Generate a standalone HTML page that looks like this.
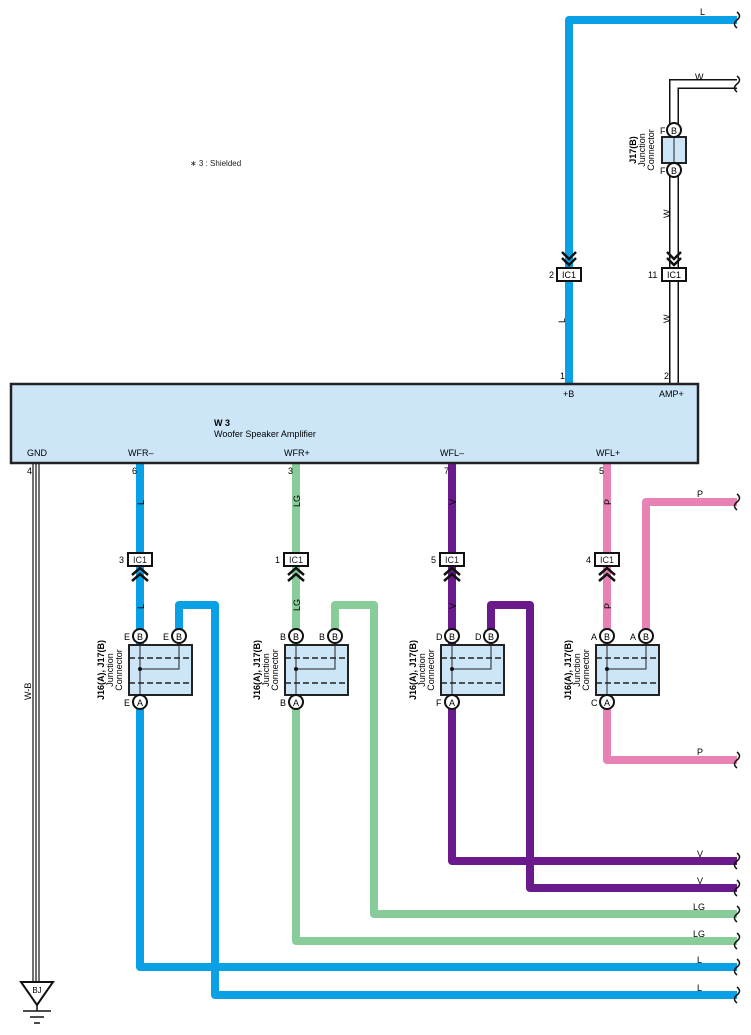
<!DOCTYPE html>
<html><head><meta charset="utf-8"><style>
html,body{margin:0;padding:0;background:#fff;}
svg{display:block;font-family:"Liberation Sans",sans-serif;}
</style></head><body>
<svg width="751" height="1035" viewBox="0 0 751 1035" xmlns="http://www.w3.org/2000/svg">
<defs>
<g id="jc">
  <rect x="128" y="553" width="24" height="13" fill="#fff" stroke="#111" stroke-width="2"/>
  <text x="140" y="563" font-size="9" text-anchor="middle" fill="#222">IC1</text>
  <polyline points="132,575 140,568 148,575" fill="none" stroke="#111" stroke-width="2.5"/>
  <polyline points="132,581 140,574 148,581" fill="none" stroke="#111" stroke-width="2.5"/>
  <rect x="129" y="645" width="63" height="50" fill="#cce6f8" stroke="#222" stroke-width="2"/>
  <line x1="129" y1="658" x2="192" y2="658" stroke="#222" stroke-width="1.5" stroke-dasharray="6,3"/>
  <line x1="129" y1="683" x2="192" y2="683" stroke="#222" stroke-width="1.5" stroke-dasharray="6,3"/>
  <line x1="140" y1="645" x2="140" y2="695" stroke="#222" stroke-width="1"/>
  <polyline points="140,669 179,669 179,645" fill="none" stroke="#222" stroke-width="1"/>
  <circle cx="140" cy="669" r="2" fill="#111"/>
  <circle cx="140" cy="636" r="7" fill="#fff" stroke="#111" stroke-width="2"/>
  <circle cx="179" cy="636" r="7" fill="#fff" stroke="#111" stroke-width="2"/>
  <circle cx="140" cy="702" r="7" fill="#fff" stroke="#111" stroke-width="2"/>
  <text x="140" y="640" font-size="9" text-anchor="middle">B</text>
  <text x="179" y="640" font-size="9" text-anchor="middle">B</text>
  <text x="140" y="706" font-size="9" text-anchor="middle">A</text>
  <g transform="translate(104,670) rotate(-90)" font-size="9" text-anchor="middle">
    <text x="0" y="0" font-weight="bold">J16(A), J17(B)</text>
    <text x="0" y="9">Junction</text>
    <text x="0" y="18">Connector</text>
  </g>
</g>
</defs>

<text x="190" y="166" font-size="8" fill="#222">∗ 3 : Shielded</text>

<!-- top L wire -->
<path d="M569,383 V20 H737" fill="none" stroke="#0aa0e6" stroke-width="8" stroke-linejoin="round"/>
<text x="700" y="15" font-size="9">L</text>
<text transform="translate(565,323) rotate(-90)" font-size="9">L</text>
<polyline points="562,252 569,259 576,252" fill="none" stroke="#111" stroke-width="2.5"/>
<polyline points="562,258 569,265 576,258" fill="none" stroke="#111" stroke-width="2.5"/>
<rect x="557" y="268" width="24" height="13" fill="#fff" stroke="#111" stroke-width="2"/>
<text x="569" y="278" font-size="9" text-anchor="middle">IC1</text>
<text x="549" y="278" font-size="9">2</text>

<!-- W wire -->
<path d="M674,383 V84 H737" fill="none" stroke="#111" stroke-width="10" stroke-linejoin="miter"/>
<path d="M674,383 V84 H737" fill="none" stroke="#fff" stroke-width="7" stroke-linejoin="miter"/>
<text x="695" y="80" font-size="9">W</text>
<text transform="translate(670,218) rotate(-90)" font-size="9">W</text>
<text transform="translate(670,323) rotate(-90)" font-size="9">W</text>
<rect x="662" y="137" width="24" height="26" fill="#cce6f8" stroke="#222" stroke-width="2"/>
<line x1="674" y1="137" x2="674" y2="163" stroke="#222" stroke-width="1"/>
<circle cx="674" cy="130" r="7" fill="#fff" stroke="#111" stroke-width="2"/>
<circle cx="674" cy="170" r="7" fill="#fff" stroke="#111" stroke-width="2"/>
<text x="674" y="134" font-size="9" text-anchor="middle">B</text>
<text x="674" y="174" font-size="9" text-anchor="middle">B</text>
<text x="660" y="134" font-size="9">F</text>
<text x="660" y="174" font-size="9">F</text>
<g transform="translate(636,150) rotate(-90)" font-size="9" text-anchor="middle">
  <text x="0" y="0" font-weight="bold">J17(B)</text>
  <text x="0" y="9">Junction</text>
  <text x="0" y="18">Connector</text>
</g>
<polyline points="667,252 674,259 681,252" fill="none" stroke="#111" stroke-width="2.5"/>
<polyline points="667,258 674,265 681,258" fill="none" stroke="#111" stroke-width="2.5"/>
<rect x="662" y="268" width="24" height="13" fill="#fff" stroke="#111" stroke-width="2"/>
<text x="674" y="278" font-size="9" text-anchor="middle">IC1</text>
<text x="648" y="278" font-size="9">11</text>

<!-- GND wire -->
<g stroke="#111" stroke-width="1.2">
<line x1="33" y1="463" x2="33" y2="982"/><line x1="36" y1="463" x2="36" y2="982"/><line x1="39" y1="463" x2="39" y2="982"/>
</g>
<text transform="translate(31,700) rotate(-90)" font-size="9">W-B</text>
<polygon points="21,982 53,982 37,1005" fill="#fff" stroke="#111" stroke-width="2"/>
<text x="37" y="993" font-size="8" text-anchor="middle">BJ</text>
<line x1="37" y1="1005" x2="37" y2="1011" stroke="#111" stroke-width="1.5"/>
<line x1="23" y1="1011" x2="51" y2="1011" stroke="#111" stroke-width="1.5"/>
<line x1="30" y1="1017" x2="44" y2="1017" stroke="#111" stroke-width="1.5"/>
<line x1="34" y1="1023" x2="40" y2="1023" stroke="#111" stroke-width="1.5"/>

<!-- bottom wires -->
<g fill="none" stroke-width="8" stroke-linejoin="round">
<path d="M140,463 V967 H737" stroke="#0aa0e6"/>
<path d="M179,636 V605 H215 V995 H737" stroke="#0aa0e6"/>
<path d="M296,463 V941 H737" stroke="#88cc99"/>
<path d="M335,636 V605 H374 V914 H737" stroke="#88cc99"/>
<path d="M452,463 V861 H737" stroke="#6a1a8a"/>
<path d="M491,636 V605 H530 V888 H737" stroke="#6a1a8a"/>
<path d="M607,463 V760 H737" stroke="#e882b4"/>
<path d="M646,636 V502 H737" stroke="#e882b4"/>
</g>
<g font-size="9">
<text x="697" y="497">P</text><text x="697" y="755">P</text>
<text x="697" y="857">V</text><text x="697" y="884">V</text>
<text x="693" y="910">LG</text><text x="693" y="937">LG</text>
<text x="697" y="963">L</text><text x="697" y="991">L</text>
<text transform="translate(144,505) rotate(-90)">L</text>
<text transform="translate(144,609) rotate(-90)">L</text>
<text transform="translate(300,507) rotate(-90)">LG</text>
<text transform="translate(300,611) rotate(-90)">LG</text>
<text transform="translate(456,505) rotate(-90)">V</text>
<text transform="translate(456,609) rotate(-90)">V</text>
<text transform="translate(611,505) rotate(-90)">P</text>
<text transform="translate(611,609) rotate(-90)">P</text>
</g>

<!-- brackets -->
<g fill="none" stroke="#111" stroke-width="1.5">
<path d="M737,12 q5,4 0,8 q-5,4 0,8"/>
<path d="M737,76 q5,4 0,8 q-5,4 0,8"/>
<path d="M737,494 q5,4 0,8 q-5,4 0,8"/>
<path d="M737,752 q5,4 0,8 q-5,4 0,8"/>
<path d="M737,853 q5,4 0,8 q-5,4 0,8"/>
<path d="M737,880 q5,4 0,8 q-5,4 0,8"/>
<path d="M737,906 q5,4 0,8 q-5,4 0,8"/>
<path d="M737,933 q5,4 0,8 q-5,4 0,8"/>
<path d="M737,959 q5,4 0,8 q-5,4 0,8"/>
<path d="M737,987 q5,4 0,8 q-5,4 0,8"/>
</g>

<!-- junction groups -->
<use href="#jc"/>
<use href="#jc" transform="translate(156,0)"/>
<use href="#jc" transform="translate(312,0)"/>
<use href="#jc" transform="translate(467,0)"/>
<g font-size="9">
<text x="119" y="563">3</text><text x="275" y="563">1</text><text x="431" y="563">5</text><text x="586" y="563">4</text>
<text x="124" y="640">E</text><text x="163" y="640">E</text><text x="124" y="706">E</text>
<text x="280" y="640">B</text><text x="319" y="640">B</text><text x="280" y="706">B</text>
<text x="436" y="640">D</text><text x="475" y="640">D</text><text x="436" y="706">F</text>
<text x="591" y="640">A</text><text x="630" y="640">A</text><text x="591" y="706">C</text>
</g>

<!-- main box -->
<rect x="11" y="384" width="687" height="79" fill="#cce6f8" stroke="#222" stroke-width="2.5"/>
<g font-size="9">
<text x="214" y="426" font-weight="bold">W 3</text>
<text x="214" y="437">Woofer Speaker Amplifier</text>
<text x="27" y="456">GND</text>
<text x="128" y="456">WFR–</text>
<text x="284" y="456">WFR+</text>
<text x="440" y="456">WFL–</text>
<text x="596" y="456">WFL+</text>
<text x="563" y="397">+B</text>
<text x="659" y="397">AMP+</text>
<text x="560" y="379">1</text>
<text x="664" y="379">2</text>
<text x="27" y="474">4</text>
<text x="132" y="474">6</text>
<text x="288" y="474">3</text>
<text x="444" y="474">7</text>
<text x="599" y="474">5</text>
</g>
</svg>
</body></html>
